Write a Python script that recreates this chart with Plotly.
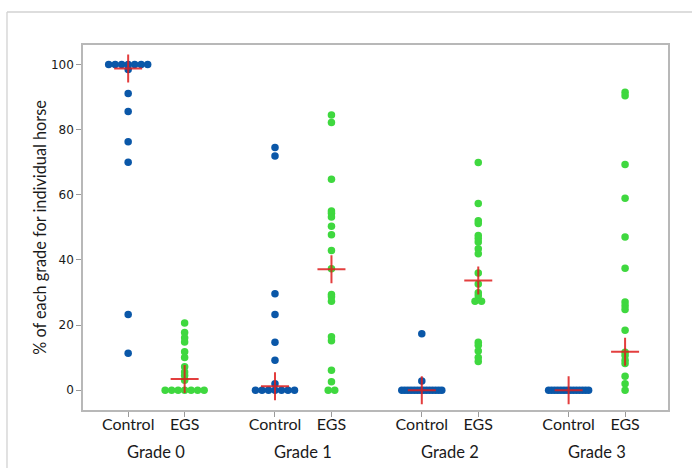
import plotly.graph_objects as go

# ---------------- data ----------------
grades = ["Grade 0", "Grade 1", "Grade 2", "Grade 3"]
groups = ["Control", "EGS"]

g0_control = [100, 100, 100, 100, 100, 100, 100, 98.5, 91.1, 85.6, 76.3, 70.0, 23.2, 11.3]
g0_egs = [20.6, 17.7, 16.1, 14.8, 11.8, 10.0, 7.2, 5.6, 4.5, 3.0, 0, 0, 0, 0, 0, 0, 0]
g1_control = [74.5, 71.9, 29.6, 23.2, 14.7, 9.2, 2.0, 0, 0, 0, 0, 0, 0, 0]
g1_egs = [84.5, 82.2, 64.8, 55.0, 54.3, 53.2, 50.3, 47.7, 42.9, 37.3, 29.4, 28.7,
          27.3, 16.4, 15.2, 6.1, 2.6, 0, 0]
g2_control = [17.3, 2.8] + [0] * 14
g2_egs = [69.9, 57.3, 52.0, 51.2, 47.5, 46.6, 45.5, 43.4, 41.9, 36.0, 32.6, 29.9,
          29.0, 27.3, 27.3, 14.7, 13.8, 12.0, 10.0, 8.8]
g3_control = [0] * 14
g3_egs = [91.5, 90.4, 69.3, 58.9, 47.0, 37.4, 27.1, 25.9, 24.8, 18.4, 11.6, 10.6,
          9.2, 8.2, 4.3, 2.0, 0]

control_values = [g0_control, g1_control, g2_control, g3_control]
egs_values = [g0_egs, g1_egs, g2_egs, g3_egs]

control_medians = [98.8, 1.2, 0, 0]
egs_medians = [3.4, 37.1, 33.7, 11.8]

y_ticks = [0, 20, 40, 60, 80, 100]

# ---------------- styling ----------------
BLUE = "#0a57a8"
GREEN = "#3fd83f"
RED = "rgba(222,28,28,0.85)"
GROUP_GAP = 2.6
X_RANGE = [-0.8, 9.56]
PLOT_W = 585.0
UNIT_PX = PLOT_W / (X_RANGE[1] - X_RANGE[0])


def swarm(values, center):
    """Spread identical values side by side (dot-plot style)."""
    counts = {}
    for v in values:
        counts[v] = counts.get(v, 0) + 1
    seen = {}
    xs = []
    for v in values:
        n = counts[v]
        i = seen.get(v, 0)
        seen[v] = i + 1
        if n == 1:
            xs.append(center)
            continue
        step_px = min(6.5, 40.0 / (n - 1))
        off = (i - (n - 1) / 2.0) * step_px / UNIT_PX
        xs.append(center + off)
    return xs


fig = go.Figure()

tickvals, ticktext = [], []
for g, grade in enumerate(grades):
    xc = g * GROUP_GAP
    xe = g * GROUP_GAP + 1
    tickvals += [xc, xe]
    ticktext += groups
    fig.add_trace(go.Scatter(
        x=swarm(control_values[g], xc), y=control_values[g], mode="markers",
        marker=dict(color=BLUE, size=7.5), showlegend=False, cliponaxis=False))
    fig.add_trace(go.Scatter(
        x=swarm(egs_values[g], xe), y=egs_values[g], mode="markers",
        marker=dict(color=GREEN, size=7.5), showlegend=False, cliponaxis=False))

# median crosses
for g in range(len(grades)):
    fig.add_trace(go.Scatter(
        x=[g * GROUP_GAP, g * GROUP_GAP + 1],
        y=[control_medians[g], egs_medians[g]],
        mode="markers",
        marker=dict(symbol="cross-thin", size=20, color=RED,
                    line=dict(color=RED, width=2)),
        showlegend=False, cliponaxis=False))

# group labels below tick labels
for g, grade in enumerate(grades):
    fig.add_annotation(x=g * GROUP_GAP + 0.5, xref="x", y=-0.115, yref="paper",
                       text=grade, showarrow=False, yanchor="middle",
                       font=dict(family="Lato", size=16.5, color="#1a1a1a"))

# outer light frame
fig.add_shape(type="line", xref="paper", yref="paper",
              x0=(7 - 83) / PLOT_W, x1=(700 - 83) / PLOT_W,
              y0=(410 - 12) / 365.0, y1=(410 - 12) / 365.0,
              line=dict(color="#d2d2d2", width=1.3))
fig.add_shape(type="line", xref="paper", yref="paper",
              x0=(7 - 83) / PLOT_W, x1=(7 - 83) / PLOT_W,
              y0=(410 - 12) / 365.0, y1=(410 - 475) / 365.0,
              line=dict(color="#d2d2d2", width=1.3))

fig.update_layout(
    width=692, height=468,
    margin=dict(l=83, r=24, t=45, b=58),
    paper_bgcolor="white", plot_bgcolor="white",
    font=dict(family="Lato", color="#1a1a1a"),
)
fig.update_xaxes(
    range=X_RANGE, tickvals=tickvals, ticktext=ticktext,
    showgrid=False, zeroline=False,
    showline=True, mirror=True, linecolor="#b8b8b8", linewidth=1.5,
    ticks="outside", ticklen=5, tickcolor="#9a9a9a", tickwidth=1,
    ticklabelstandoff=-6,
    tickfont=dict(family="Lato", size=16, color="#1a1a1a"),
)
fig.update_yaxes(
    range=[-6.1, 106], tickvals=y_ticks,
    showgrid=False, zeroline=False,
    showline=True, mirror=True, linecolor="#b8b8b8", linewidth=1.5,
    ticks="outside", ticklen=5, tickcolor="#9a9a9a", tickwidth=1,
    tickfont=dict(family="DejaVu Sans", size=12, color="#1a1a1a"),
    title=dict(text="% of each grade for individual horse", standoff=0,
               font=dict(family="Lato", size=16.3, color="#1a1a1a")),
)

fig.write_html("out.html",
               config={"displayModeBar": False},
               post_script="document.body.style.margin='0';"
                           "document.body.style.overflow='hidden';")
